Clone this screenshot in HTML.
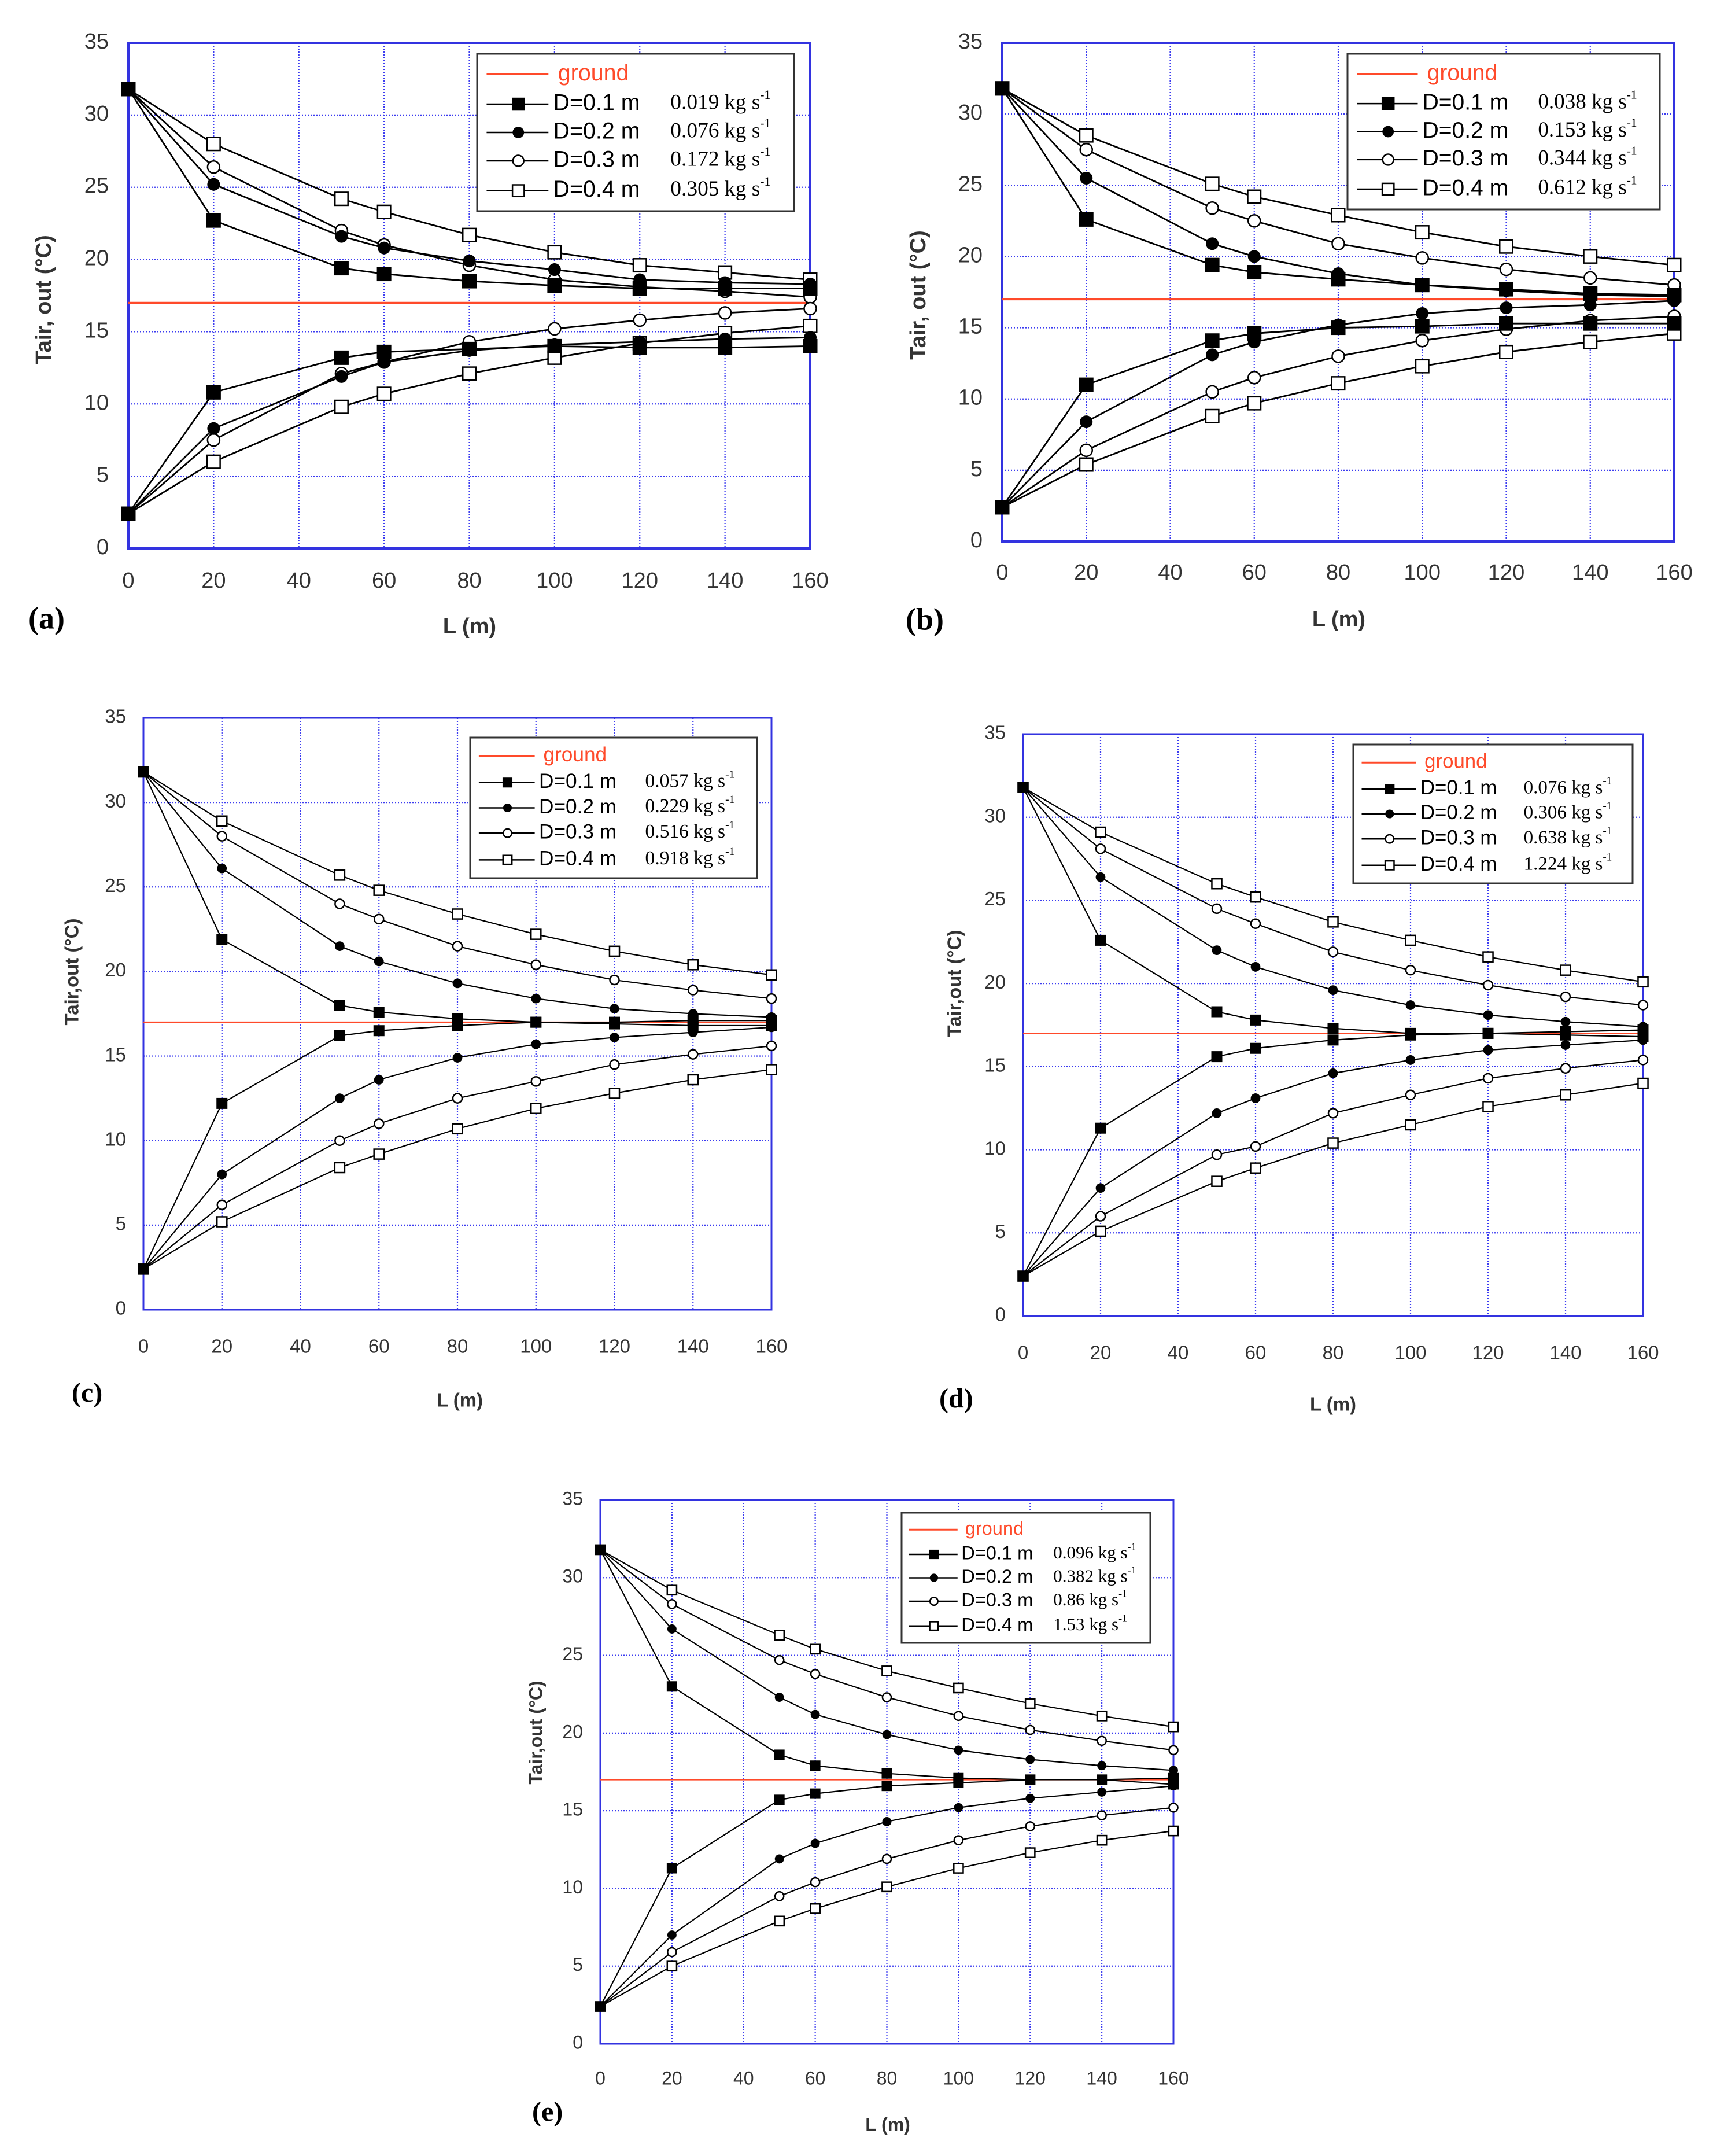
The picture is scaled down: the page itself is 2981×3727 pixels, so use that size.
<!DOCTYPE html>
<html><head><meta charset="utf-8"><style>
html,body{margin:0;padding:0;background:#fff;}
svg{display:block;}
</style></head>
<body>
<svg id="fig" xmlns="http://www.w3.org/2000/svg" width="2981" height="3727" viewBox="0 0 2981 3727"></svg>
<script>
const xCats=[0,20,50,60,80,100,120,140,160];
const xTicks=[0,20,40,60,80,100,120,140,160];
const yTicks=[0,5,10,15,20,25,30,35];
const groundT=17;
const diameters=["D=0.1 m","D=0.2 m","D=0.3 m","D=0.4 m"];
// panel (a)
const aFlows=["0.019 kg s","0.076 kg s","0.172 kg s","0.305 kg s"];
const aCoolD1=[31.8,22.7,19.4,19.0,18.5,18.2,18.0,18.0,18.0];
const aCoolD2=[31.8,25.2,21.6,20.8,19.9,19.3,18.6,18.4,18.3];
const aCoolD3=[31.8,26.4,22.0,21.0,19.6,18.6,18.1,17.8,17.4];
const aCoolD4=[31.8,28.0,24.2,23.3,21.7,20.5,19.6,19.1,18.6];
const aHeatD1=[2.4,10.8,13.2,13.6,13.8,14.0,13.9,13.9,14.0];
const aHeatD2=[2.4,8.3,11.9,12.9,13.7,14.1,14.3,14.5,14.6];
const aHeatD3=[2.4,7.5,12.1,12.9,14.3,15.2,15.8,16.3,16.6];
const aHeatD4=[2.4,6.0,9.8,10.7,12.1,13.2,14.2,14.9,15.4];
// panel (b)
const bFlows=["0.038 kg s","0.153 kg s","0.344 kg s","0.612 kg s"];
const bCoolD1=[31.8,22.6,19.4,18.9,18.4,18.0,17.7,17.4,17.3];
const bCoolD2=[31.8,25.5,20.9,20.0,18.8,18.0,17.6,17.3,17.2];
const bCoolD3=[31.8,27.5,23.4,22.5,20.9,19.9,19.1,18.5,18.0];
const bCoolD4=[31.8,28.5,25.1,24.2,22.9,21.7,20.7,20.0,19.4];
const bHeatD1=[2.4,11.0,14.1,14.6,15.0,15.1,15.3,15.3,15.3];
const bHeatD2=[2.4,8.4,13.1,14.0,15.2,16.0,16.4,16.6,16.9];
const bHeatD3=[2.4,6.4,10.5,11.5,13.0,14.1,14.9,15.5,15.8];
const bHeatD4=[2.4,5.4,8.8,9.7,11.1,12.3,13.3,14.0,14.6];
// panel (c)
const cFlows=["0.057  kg s","0.229  kg s","0.516  kg s","0.918  kg s"];
const cCoolD1=[31.8,21.9,18.0,17.6,17.2,17.0,17.0,17.1,17.1];
const cCoolD2=[31.8,26.1,21.5,20.6,19.3,18.4,17.8,17.5,17.3];
const cCoolD3=[31.8,28.0,24.0,23.1,21.5,20.4,19.5,18.9,18.4];
const cCoolD4=[31.8,28.9,25.7,24.8,23.4,22.2,21.2,20.4,19.8];
const cHeatD1=[2.4,12.2,16.2,16.5,16.8,17.0,16.9,16.8,16.8];
const cHeatD2=[2.4,8.0,12.5,13.6,14.9,15.7,16.1,16.4,16.7];
const cHeatD3=[2.4,6.2,10.0,11.0,12.5,13.5,14.5,15.1,15.6];
const cHeatD4=[2.4,5.2,8.4,9.2,10.7,11.9,12.8,13.6,14.2];
// panel (d)
const dFlows=["0.076  kg s","0.306  kg s","0.638  kg s","1.224  kg s"];
const dCoolD1=[31.8,22.6,18.3,17.8,17.3,17.0,17.0,17.1,17.2];
const dCoolD2=[31.8,26.4,22.0,21.0,19.6,18.7,18.1,17.7,17.4];
const dCoolD3=[31.8,28.1,24.5,23.6,21.9,20.8,19.9,19.2,18.7];
const dCoolD4=[31.8,29.1,26.0,25.2,23.7,22.6,21.6,20.8,20.1];
const dHeatD1=[2.4,11.3,15.6,16.1,16.6,16.9,17.0,16.9,16.8];
const dHeatD2=[2.4,7.7,12.2,13.1,14.6,15.4,16.0,16.3,16.6];
const dHeatD3=[2.4,6.0,9.7,10.2,12.2,13.3,14.3,14.9,15.4];
const dHeatD4=[2.4,5.1,8.1,8.9,10.4,11.5,12.6,13.3,14.0];
// panel (e)
const eFlows=["0.096 kg s","0.382 kg s","0.86   kg s","1.53   kg s"];
const eCoolD1=[31.8,23.0,18.6,17.9,17.4,17.1,17.0,17.0,17.1];
const eCoolD2=[31.8,26.7,22.3,21.2,19.9,18.9,18.3,17.9,17.6];
const eCoolD3=[31.8,28.3,24.7,23.8,22.3,21.1,20.2,19.5,18.9];
const eCoolD4=[31.8,29.2,26.3,25.4,24.0,22.9,21.9,21.1,20.4];
const eHeatD1=[2.4,11.3,15.7,16.1,16.6,16.8,17.0,17.0,16.7];
const eHeatD2=[2.4,7.0,11.9,12.9,14.3,15.2,15.8,16.2,16.6];
const eHeatD3=[2.4,5.9,9.5,10.4,11.9,13.1,14.0,14.7,15.2];
const eHeatD4=[2.4,5.0,7.9,8.7,10.1,11.3,12.3,13.1,13.7];

const NS="http://www.w3.org/2000/svg";
const svg=document.getElementById('fig');
function mk(tag,attrs,parent){const e=document.createElementNS(NS,tag);for(const k in attrs)e.setAttribute(k,attrs[k]);(parent||svg).appendChild(e);return e;}

const layouts={
 a:{x0:222,x1:1401,y0:74,y1:948,lg:[825,93,1373,365],tf:38,xo:58,yo:34,xt:[812,1085],yt:[78,518],pl:[49,1074],ms:25,big:true},
 b:{x0:1733,x1:2895,y0:74,y1:936,lg:[2330,93,2870,362],tf:38,xo:56,yo:34,xt:[2315,1073],yt:[1590,510],pl:[1566,1076],ms:25,big:true},
 c:{x0:248,x1:1334,y0:1241,y1:2264,lg:[813,1275,1309,1518],tf:33,xo:66,yo:30,xt:[795,2423],yt:[127,1680],pl:[124,2412],ms:19,big:false},
 d:{x0:1769,x1:2841,y0:1269,y1:2275,lg:[2340,1287,2823,1527],tf:33,xo:66,yo:30,xt:[2305,2430],yt:[1653,1700],pl:[1624,2422],ms:19,big:false},
 e:{x0:1038,x1:2029,y0:2593,y1:3533,lg:[1559,2615,1989,2840],tf:32,xo:62,yo:30,xt:[1535,3675],yt:[929,2995],pl:[920,3655],ms:18,big:false}
};

function marker(g,type,cx,cy,s){
  let m;
  if(type===0) m=mk('rect',{x:cx-s/2,y:cy-s/2,width:s,height:s,fill:'#000'},g);
  else if(type===1) m=mk('circle',{cx:cx,cy:cy,r:s*0.44,fill:'#000'},g);
  else if(type===2) m=mk('circle',{cx:cx,cy:cy,r:s*0.42,fill:'#fff',stroke:'#000','stroke-width':2.5},g);
  else m=mk('rect',{x:cx-s*0.45,y:cy-s*0.45,width:s*0.9,height:s*0.9,fill:'#fff',stroke:'#000','stroke-width':2.5},g);
  return m;
}

function drawPanel(id,cool,heat,flows){
  const p=layouts[id];
  const X=v=>p.x0+(v/160)*(p.x1-p.x0);
  const Y=v=>p.y1-(v/35)*(p.y1-p.y0);
  const g=mk('g',{});
  
  
  xTicks.forEach(t=>{
    const l=mk('line',{x1:X(t),x2:X(t),y1:p.y0,y2:p.y1,stroke:'#3b3bf0','stroke-width':2.2,'stroke-dasharray':'2,3'},g);
    
    
    const tx=mk('text',{x:X(t),y:p.y1+p.xo,'text-anchor':'middle','dominant-baseline':'middle','font-family':'Liberation Sans, sans-serif','font-size':p.tf,fill:'#333'},g);
    tx.textContent=t;
    
    
  });
  yTicks.forEach(t=>{
    const l=mk('line',{x1:p.x0,x2:p.x1,y1:Y(t),y2:Y(t),stroke:'#3b3bf0','stroke-width':2.2,'stroke-dasharray':'2,3'},g);
    
    
    const tx=mk('text',{x:p.x0-p.yo,y:Y(t),'text-anchor':'end','dominant-baseline':'middle','font-family':'Liberation Sans, sans-serif','font-size':p.tf,fill:'#333'},g);
    tx.textContent=t;
    
    
  });
  const fr=mk('rect',{x:p.x0,y:p.y0,width:p.x1-p.x0,height:p.y1-p.y0,fill:'none',stroke:'#3333e0','stroke-width':p.big?4:3},g);
  
  
  const gl=mk('line',{x1:p.x0,x2:p.x1,y1:Y(groundT),y2:Y(groundT),stroke:'#ff4a2a','stroke-width':p.big?3.5:2.5},g);
  
  
  const all=[];
  cool.forEach((s,i)=>all.push([s,i,'cool']));
  heat.forEach((s,i)=>all.push([s,i,'heat']));
  all.sort((u,v)=>v[1]-u[1]);
  all.forEach(([s,i,kind])=>{
    const pts=s.map((v,k)=>X(xCats[k])+','+Y(v)).join(' ');
    const pl=mk('polyline',{points:pts,fill:'none',stroke:'#000','stroke-width':p.big?2.8:2.2},g);
    
    
    s.forEach((v,k)=>{
      const m=marker(g,i,X(xCats[k]),Y(v),p.ms);
      
      
    });
  });
  const [lx0,ly0,lx1,ly1]=p.lg, W=lx1-lx0, H=ly1-ly0;
  const lg=mk('g',{},g);
  
  
  mk('rect',{x:lx0,y:ly0,width:W,height:H,fill:'#fff',stroke:'#333','stroke-width':3},lg);
  const fs=H*0.145;
  const rows=[0.13,0.32,0.5,0.68,0.87];
  const gy=ly0+rows[0]*H;
  mk('line',{x1:lx0+0.03*W,x2:lx0+0.225*W,y1:gy,y2:gy,stroke:'#ff4a2a','stroke-width':3},lg);
  const gt=mk('text',{x:lx0+0.255*W,y:gy,'dominant-baseline':'middle','font-family':'Liberation Sans, sans-serif','font-size':fs,fill:'#ff4a2a'},lg);
  gt.textContent='ground';
  
  
  diameters.forEach((d,i)=>{
    const yy=ly0+rows[i+1]*H;
    mk('line',{x1:lx0+0.03*W,x2:lx0+0.225*W,y1:yy,y2:yy,stroke:'#000','stroke-width':2.5},lg);
    marker(lg,i,lx0+0.13*W,yy,p.ms*0.9);
    const t=mk('text',{x:lx0+0.24*W,y:yy,'dominant-baseline':'middle','font-family':'Liberation Sans, sans-serif','font-size':fs,fill:'#000'},lg);
    t.textContent=d;
    
    
    const ft=mk('text',{x:lx0+0.61*W,y:yy,'dominant-baseline':'middle','font-family':'Liberation Serif, serif','font-size':fs*0.95,fill:'#000','xml:space':'preserve'},lg);
    ft.textContent=flows[i];
    const sp=mk('tspan',{dy:-fs*0.35,'font-size':fs*0.55},ft);
    sp.textContent='-1';
    
    
  });
  const xt=mk('text',{x:p.xt[0],y:p.xt[1],'text-anchor':'middle','dominant-baseline':'middle','font-family':'Liberation Sans, sans-serif','font-weight':'bold','font-size':p.tf,fill:'#333'},g);
  xt.textContent='L (m)';
  
  
  const yt=mk('text',{x:p.yt[0],y:p.yt[1],'text-anchor':'middle','dominant-baseline':'middle','font-family':'Liberation Sans, sans-serif','font-weight':'bold','font-size':p.tf,fill:'#333',transform:'rotate(-90 '+p.yt[0]+' '+p.yt[1]+')'},g);
  yt.textContent=p.big?'Tair, out (°C)':'Tair,out (°C)';
  
  
  const pl=mk('text',{x:p.pl[0],y:p.pl[1],'dominant-baseline':'middle','font-family':'Liberation Serif, serif','font-weight':'bold','font-size':p.big?54:48,fill:'#000'},g);
  pl.textContent='('+id+')';
  
  
}

drawPanel('a',[aCoolD1,aCoolD2,aCoolD3,aCoolD4],[aHeatD1,aHeatD2,aHeatD3,aHeatD4],aFlows);
drawPanel('b',[bCoolD1,bCoolD2,bCoolD3,bCoolD4],[bHeatD1,bHeatD2,bHeatD3,bHeatD4],bFlows);
drawPanel('c',[cCoolD1,cCoolD2,cCoolD3,cCoolD4],[cHeatD1,cHeatD2,cHeatD3,cHeatD4],cFlows);
drawPanel('d',[dCoolD1,dCoolD2,dCoolD3,dCoolD4],[dHeatD1,dHeatD2,dHeatD3,dHeatD4],dFlows);
drawPanel('e',[eCoolD1,eCoolD2,eCoolD3,eCoolD4],[eHeatD1,eHeatD2,eHeatD3,eHeatD4],eFlows);
</script>
</body></html>
